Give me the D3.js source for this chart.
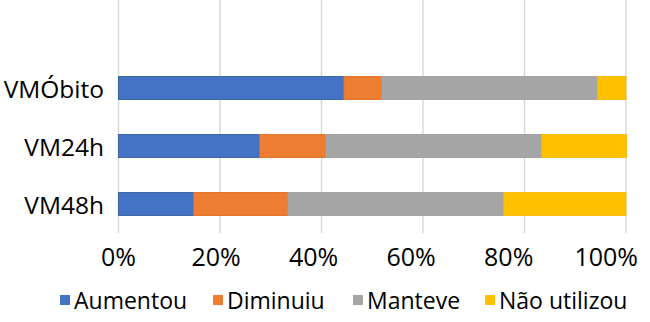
<!DOCTYPE html>
<html>
<head>
<meta charset="utf-8">
<script src="https://cdn.jsdelivr.net/npm/d3@7"></script>
<style>
  html, body { margin: 0; padding: 0; background: #fff; }
  svg { display: block; }
  text { font-family: "Open Sans", "Liberation Sans", sans-serif; fill: #000; }
</style>
</head>
<body>
<svg id="chart" width="650" height="322"></svg>
<script>
const categories = ["VMÓbito", "VM24h", "VM48h"];
const seriesNames = ["Aumentou", "Diminuiu", "Manteve", "Não utilizou"];
const aumentou = [44.4, 27.8, 14.8];
const diminuiu = [7.4, 13.0, 18.5];
const manteve = [42.6, 42.6, 42.6];
const naoUtilizou = [5.6, 16.7, 24.1];
const tickValues = [0, 20, 40, 60, 80, 100];
const colors = ["#4472C4", "#ED7D31", "#A5A5A5", "#FFC000"];
const strokes = ["#2F5597", "#E0691A", "#9A9A9A", "#F5B800"];

const seriesValues = [aumentou, diminuiu, manteve, naoUtilizou];
const rows = categories.map((c, i) => {
  const r = { cat: c };
  seriesNames.forEach((s, j) => r[s] = seriesValues[j][i]);
  return r;
});

const svg = d3.select("#chart");
const plotLeft = 118.5, plotRight = 626, plotTop = 59, plotBottom = 233;

const x = d3.scaleLinear().domain([0, 100]).range([plotLeft, plotRight]);
const y = d3.scaleBand().domain(categories).range([plotTop, plotBottom]).paddingInner(0.6).paddingOuter(0.3);

// gridlines
svg.append("g").selectAll("line").data(tickValues).join("line")
  .attr("x1", d => x(d)).attr("x2", d => x(d))
  .attr("y1", 0).attr("y2", plotBottom)
  .attr("stroke", "#D9D9D9").attr("stroke-width", 1.5);

const stack = d3.stack().keys(seriesNames)(rows);

svg.append("g").selectAll("g").data(stack).join("g")
  .attr("fill", (d, i) => colors[i])
  .attr("stroke", (d, i) => strokes[i])
  .attr("stroke-width", 0.8)
  .selectAll("rect").data(d => d).join("rect")
  .attr("x", d => x(d[0]))
  .attr("width", d => x(d[1]) - x(d[0]))
  .attr("y", d => y(d.data.cat))
  .attr("height", y.bandwidth());

// category labels
svg.append("g").selectAll("text").data(categories).join("text")
  .attr("x", 104).attr("y", d => y(d) + y.bandwidth() / 2)
  .attr("text-anchor", "end").attr("dominant-baseline", "central")
  .attr("font-size", 24.5).text(d => d);

// x axis tick labels (Excel squeezes them inward so 100% fits)
const xAxis = d3.axisBottom(x).tickValues(tickValues).tickFormat(d => d + "%").tickSize(0).tickPadding(0);
const ax = svg.append("g").attr("transform", `translate(0, 257)`).call(xAxis);
ax.select(".domain").remove();
ax.selectAll(".tick").attr("transform", d => `translate(${plotLeft + (x(d) - plotLeft) * 0.961},0)`);
ax.selectAll("text").attr("font-size", 25).attr("dy", "0.35em").attr("y", 0)
  .style("font-family", '"Open Sans", "Liberation Sans", sans-serif').attr("fill", "#000");

// legend
const legendX = [60, 213, 353, 485];
const lg = svg.append("g").selectAll("g").data(seriesNames).join("g")
  .attr("transform", (d, i) => `translate(${legendX[i]}, 300)`);
lg.append("rect").attr("x", 0).attr("y", -5).attr("width", 10).attr("height", 10)
  .attr("fill", (d, i) => colors[i]);
lg.append("text").attr("x", 14).attr("y", 0).attr("dominant-baseline", "central")
  .attr("font-size", 23).text(d => d);
</script>
</body>
</html>
